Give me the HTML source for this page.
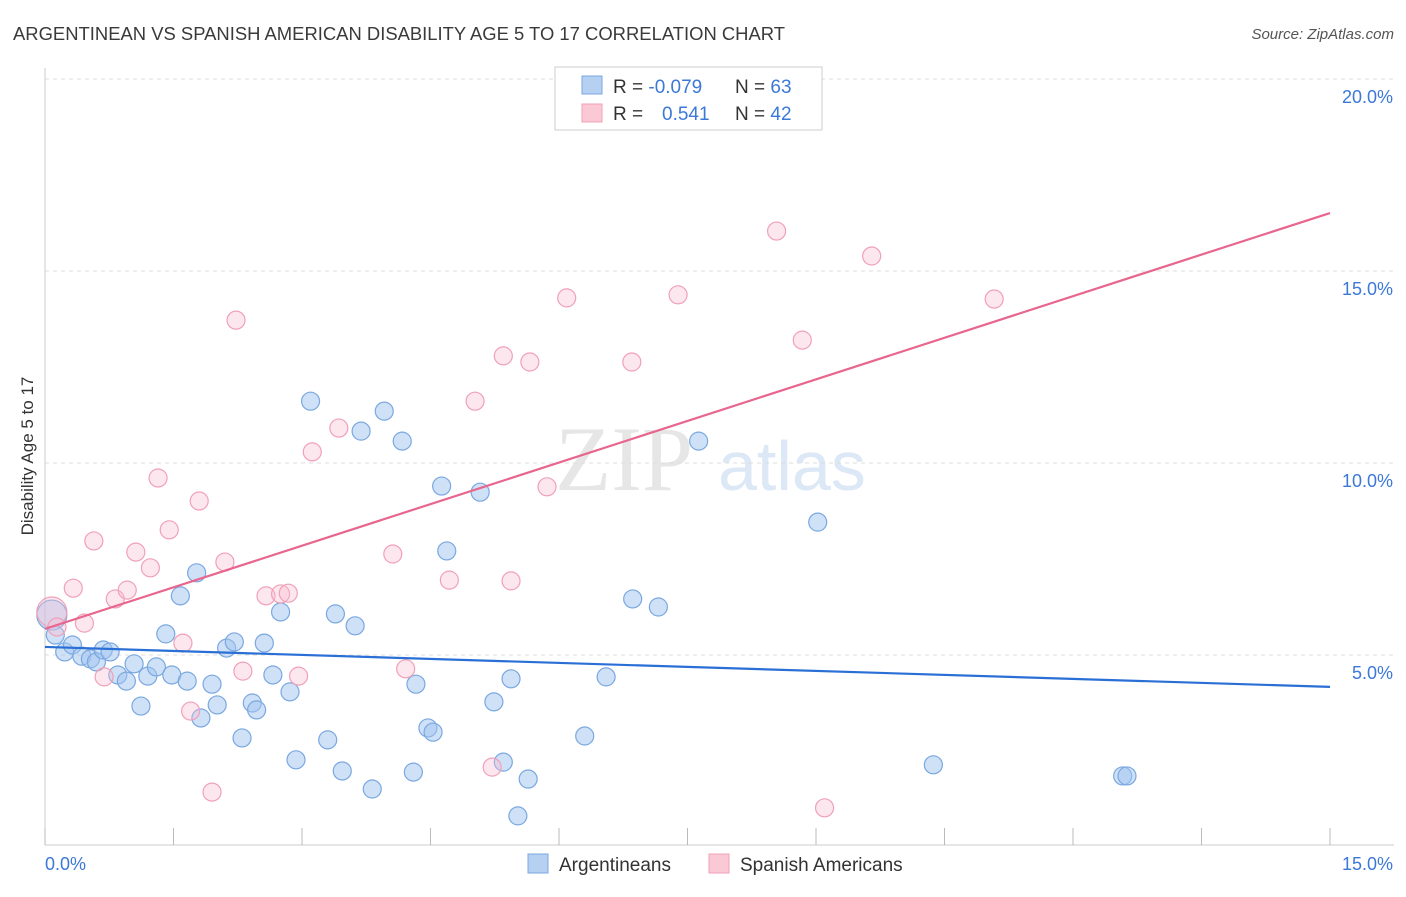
<!DOCTYPE html>
<html><head><meta charset="utf-8">
<style>
html,body{margin:0;padding:0;background:#fff;}
body{width:1406px;height:892px;overflow:hidden;font-family:"Liberation Sans",sans-serif;}
</style></head>
<body>
<svg id="chart" width="1406" height="892" xmlns="http://www.w3.org/2000/svg" font-family="Liberation Sans, sans-serif">
  <text x="13" y="40" font-size="18" fill="#3a3a3a" textLength="772" lengthAdjust="spacingAndGlyphs">ARGENTINEAN VS SPANISH AMERICAN DISABILITY AGE 5 TO 17 CORRELATION CHART</text>
  <text x="1394" y="39" font-size="15" fill="#555" text-anchor="end" font-style="italic">Source: ZipAtlas.com</text>
  <text transform="translate(33,456) rotate(-90)" font-size="17" fill="#333" text-anchor="middle">Disability Age 5 to 17</text>
  <g>
    <text x="555" y="490" font-size="92" fill="#e6e6e6" font-family="Liberation Serif, serif">ZIP</text>
    <text x="718" y="490" font-size="70" fill="#dce8f6">atlas</text>
  </g>
  <g id="grid"></g>
  <g id="axes"></g>
  <g id="marks"></g>
  <g>
    <rect x="555" y="67" width="267" height="63" fill="#fff" stroke="#ccc"/>
    <rect x="582" y="76" width="20" height="18" fill="#b6d0f2" stroke="#7aa8e0"/>
    <rect x="582" y="104" width="20" height="18" fill="#fbc8d6" stroke="#f0a0b8"/>
    <text x="613" y="93" font-size="19" fill="#333">R = <tspan fill="#3b78d8">-0.079</tspan></text>
    <text x="735" y="93" font-size="19" fill="#333">N = <tspan fill="#3b78d8">63</tspan></text>
    <text x="613" y="120" font-size="19" fill="#333">R = <tspan fill="#3b78d8" x="662">0.541</tspan></text>
    <text x="735" y="120" font-size="19" fill="#333">N = <tspan fill="#3b78d8">42</tspan></text>
  </g>
  <g>
    <rect x="528" y="854" width="20" height="19" fill="#b6d0f2" stroke="#7aa8e0"/>
    <text x="559" y="871" font-size="19" fill="#333">Argentineans</text>
    <rect x="709" y="854" width="20" height="19" fill="#fbc8d6" stroke="#f0a0b8"/>
    <text x="740" y="871" font-size="19" fill="#333">Spanish Americans</text>
  </g>
</svg>
<script>
const xTickLabels = ["0.0%", "15.0%"];
const yTicks = [5, 10, 15, 20];
const yTickLabels = ["5.0%", "10.0%", "15.0%", "20.0%"];
const blueX = [0.08,0.12,0.23,0.32,0.43,0.53,0.60,0.68,0.76,0.85,0.95,1.04,1.12,1.20,1.30,1.41,1.48,1.58,1.66,1.77,1.82,1.95,2.01,2.12,2.21,2.30,2.42,2.47,2.56,2.66,2.75,2.86,2.93,3.10,3.30,3.39,3.47,3.62,3.69,3.82,3.96,4.17,4.30,4.33,4.47,4.53,4.63,4.69,5.08,5.24,5.35,5.44,5.52,5.64,6.30,6.55,6.86,7.16,7.63,9.02,10.37,12.58,12.63];
const blueY = [6.04,5.52,5.08,5.26,4.97,4.90,4.82,5.13,5.08,4.48,4.32,4.77,3.67,4.45,4.69,5.55,4.48,6.54,4.32,7.14,3.36,4.24,3.70,5.18,5.34,2.84,3.75,3.57,5.31,4.48,6.12,4.04,2.27,11.61,2.79,6.07,1.98,5.76,10.83,1.51,11.35,10.57,1.95,4.24,3.10,2.99,9.40,7.71,9.24,3.78,2.21,4.38,0.81,1.77,2.89,4.43,6.46,6.25,10.57,8.46,2.14,1.85,1.85];
const pinkX = [0.08,0.14,0.33,0.46,0.57,0.69,0.82,0.96,1.06,1.23,1.32,1.45,1.61,1.70,1.80,1.95,2.10,2.23,2.31,2.58,2.75,2.84,2.96,3.12,3.43,4.06,4.21,4.72,5.02,5.22,5.35,5.44,5.66,5.86,6.09,6.85,7.39,8.54,8.84,9.10,9.65,11.08];
const pinkY = [6.12,5.73,6.74,5.83,7.97,4.43,6.46,6.69,7.68,7.27,9.61,8.26,5.31,3.54,9.01,1.43,7.42,13.72,4.58,6.54,6.59,6.61,4.45,10.29,10.91,7.63,4.64,6.95,11.61,2.08,12.79,6.93,12.63,9.38,14.30,12.63,14.38,16.04,13.20,1.02,15.39,14.27];
const blueTrend = [5.21, 4.17];
const pinkTrend = [5.68, 16.51];
const trendX = [0, 15];

const NS = "http://www.w3.org/2000/svg";
const X0 = 45, X1 = 1330, Y0 = 847, PXPER = 38.4;
function sx(v){ return X0 + (X1 - X0) * v / 15; }
function sy(v){ return Y0 - v * PXPER; }
function mk(tag, attrs, parent){ const e = document.createElementNS(NS, tag); for (const k in attrs) e.setAttribute(k, attrs[k]); parent.appendChild(e); return e; }

const grid = document.getElementById('grid');
const axes = document.getElementById('axes');
const marks = document.getElementById('marks');

yTicks.forEach((t, i) => {
  const l = mk('line', {x1: X0, x2: 1394, y1: sy(t), y2: sy(t), stroke: '#ddd', 'stroke-dasharray': '4,4'}, grid);
  
  
  const tx = mk('text', {x: 1393, y: sy(t) + 24, 'font-size': 18, fill: '#3b78d8', 'text-anchor': 'end'}, axes);
  tx.textContent = yTickLabels[i];
  
  
});
const ax = mk('line', {x1: X0, x2: 1394, y1: 845, y2: 845, stroke: '#ccc'}, axes);


const ay = mk('line', {x1: X0, x2: X0, y1: 68, y2: 845, stroke: '#ccc'}, axes);


for (let i = 0; i <= 10; i++) {
  const v = i * 1.5;
  const tk = mk('line', {x1: sx(v), x2: sx(v), y1: 828, y2: 845, stroke: '#bbb'}, axes);
  
  
}
const xl0 = mk('text', {x: 45, y: 870, 'font-size': 18, fill: '#3b78d8'}, axes);
xl0.textContent = xTickLabels[0];


const xl1 = mk('text', {x: 1393, y: 870, 'font-size': 18, fill: '#3b78d8', 'text-anchor': 'end'}, axes);
xl1.textContent = xTickLabels[1];



function dots(xs, ys, fill, stroke, name){
  xs.forEach((x, i) => {
    const r = i === 0 ? 15 : 9;
    const c = mk('circle', {cx: sx(x), cy: sy(ys[i]), r: r, fill: fill, stroke: stroke, 'stroke-width': 1.2}, marks);
    
    
  });
}
dots(blueX, blueY, 'rgba(160,196,240,0.5)', '#7aa8e0', 'argentinean-point');
dots(pinkX, pinkY, 'rgba(248,185,205,0.35)', '#f0a0b8', 'spanish-american-point');

const bl = mk('line', {x1: sx(trendX[0]), y1: sy(blueTrend[0]), x2: sx(trendX[1]), y2: sy(blueTrend[1]), stroke: '#2a6fd6', 'stroke-width': 2.2}, marks);


const pl = mk('line', {x1: sx(trendX[0]), y1: sy(pinkTrend[0]), x2: sx(trendX[1]), y2: sy(pinkTrend[1]), stroke: '#e8668e', 'stroke-width': 2.2}, marks);


</script>
</body></html>
